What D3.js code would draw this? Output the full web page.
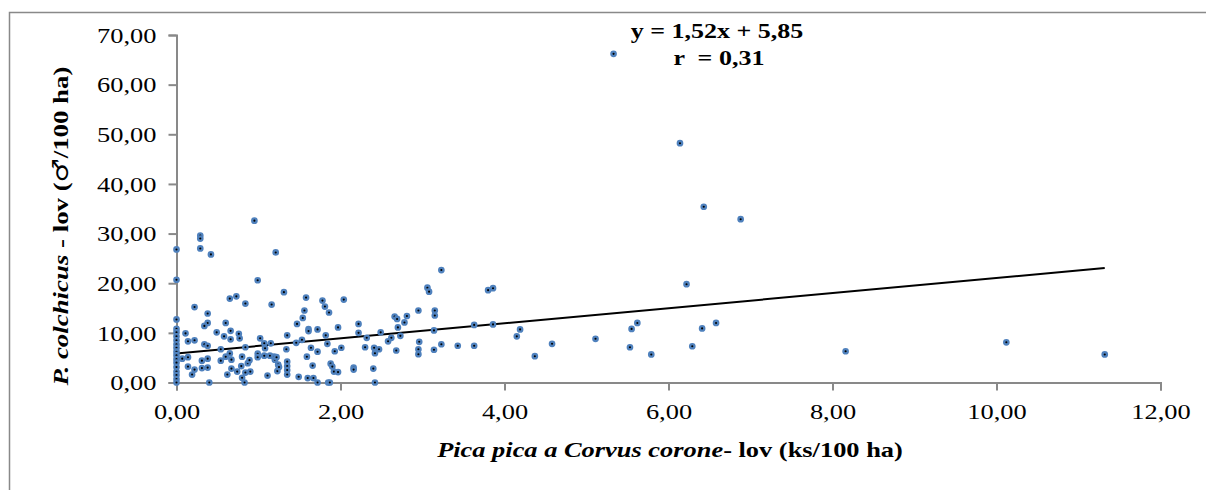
<!DOCTYPE html>
<html>
<head>
<meta charset="utf-8">
<script src="https://cdn.jsdelivr.net/npm/d3@7"></script>
<style>
  html, body { margin: 0; padding: 0; background: #fff; }
  svg text { font-family: "Liberation Serif", "Times New Roman", serif; fill: #000; }
</style>
</head>
<body>
<svg id="chart" width="1206" height="490"></svg>
<script>
// Corvid density (Pica pica + Corvus corone, ks/100 ha) per survey plot
const corvidDensity = [
  0,0,0,0,0,0,0,0,0,0,0,0,0,0,0,0,0,0,
  0.07,0.11,0.14,0.22,0.14,0.14,0.19,0.22,0.31,0.31,0.38,0.38,0.34,0.38,0.40,0.22,0.29,0.29,0.29,0.42,0.38,0.38,0.34,
  0.49,0.54,0.54,0.58,0.60,0.60,0.66,0.66,0.65,0.67,0.67,0.62,0.74,0.76,0.77,0.80,0.79,0.80,0.83,0.84,0.84,0.87,0.89,0.90,0.65,0.73,0.84,0.95,0.99,
  0.99,0.99,1.02,1.07,1.08,1.07,1.11,1.14,1.15,1.19,1.20,1.22,1.24,1.23,1.25,1.35,1.34,1.35,1.35,1.35,1.35,1.49,1.46,1.53,1.64,1.59,1.60,1.66,1.67,1.72,1.72,1.82,1.84,1.85,1.87,1.88,1.90,1.92,1.93,1.97,
  1.16,1.21,1.31,1.58,1.78,1.81,1.86,1.56,1.54,1.47,1.61,1.61,1.72,1.97,
  3.23,3.06,3.08,3.80,3.86,2.04,2.95,3.15,3.15,2.66,2.69,2.81,2.78,2.22,2.22,2.70,2.49,3.14,3.63,3.86,4.19,4.15,
  2.32,2.73,2.62,2.58,2.96,2.95,2.95,3.14,3.23,3.43,3.63,2.30,2.41,2.47,2.42,2.68,2.01,2.16,2.16,2.40,2.42,
  4.37,4.58,5.11,5.53,5.55,5.62,5.79,6.29,6.41,6.58,8.16,10.12,11.32,6.22,5.33,6.14,6.43,6.88
];

// Pheasant density (P. colchicus males/100 ha) on the same plots
const pheasantDensity = [
  26.8,20.7,12.7,10.8,10.1,9.3,8.5,7.7,7.0,6.2,5.5,4.7,4.0,3.1,2.2,1.5,0.7,0,
  4.8,9.9,8.3,8.5,5.1,3.2,1.6,2.6,4.4,2.9,3.0,4.8,7.7,7.4,0,15.2,29.6,29.0,27.0,25.8,13.9,12.0,11.4,
  10.1,6.7,4.4,9.3,5.2,12.0,10.4,8.7,5.85,4.6,2.8,1.6,2.2,9.8,8.9,5.2,3.3,0.95,0,7.1,2.0,3.9,4.5,2.2,16.9,17.35,15.9,32.6,20.6,
  5.8,5.1,8.9,7.9,6.9,5.4,1.4,5.4,7.9,5.2,4.6,5.1,3.6,2.3,3.1,9.5,6.7,4.2,3.3,2.5,1.6,1.15,8.0,8.6,7.0,5.2,0.9,3.4,0.9,0,6.2,9.5,7.8,0,0,3.8,3.2,2.2,6.3,2.1,
  15.7,26.2,18.2,17.1,16.5,15.3,14.1,14.5,13.0,11.8,10.75,10.35,10.7,11.1,
  22.65,19.1,18.3,18.6,19.0,16.7,14.5,14.5,13.5,13.3,12.8,13.4,12.1,11.8,10.0,11.1,10.1,10.5,11.6,11.7,10.7,9.3,
  9.0,9.4,9.0,8.3,8.2,6.7,5.7,6.6,7.7,7.4,7.4,7.1,7.0,6.7,5.9,6.45,7.0,3.0,2.6,2.8,0,
  5.3,7.8,8.8,7.1,10.8,12.0,5.65,7.3,10.9,12.0,6.3,8.1,5.65,19.8,66.2,48.2,35.4,32.9
];

// Axis ticks
const xTicks = [0, 2, 4, 6, 8, 10, 12];
const yTicks = [0, 10, 20, 30, 40, 50, 60, 70];

// Linear fit reported on the chart
const fitSlope = 1.52;
const fitIntercept = 5.85;
const fitR = 0.31;

const svg = d3.select("#chart");
const axisColor = "#898989";

const locale = d3.formatLocale({ decimal: ",", thousands: " ", grouping: [3], currency: ["", ""] });
const fmt = locale.format(".2f");

// Widen text along its own direction, keeping its anchor
function widen(sel, k) {
  sel.each(function () {
    const w = this.getComputedTextLength();
    d3.select(this).attr("textLength", w * k).attr("lengthAdjust", "spacingAndGlyphs");
  });
}

// Outer frame
svg.append("rect")
  .attr("x", 9.5).attr("y", 12.5)
  .attr("width", 1210).attr("height", 500)
  .attr("fill", "none").attr("stroke", axisColor).attr("stroke-width", 1.5);

const x = d3.scaleLinear().domain([0, 12]).range([176.5, 1160.5]);
const y = d3.scaleLinear().domain([0, 70]).range([382.5, 35]);

// Y axis
const yAxis = svg.append("g").attr("transform", `translate(${x(0)},0)`)
  .call(d3.axisLeft(y).tickValues(yTicks).tickSize(8).tickPadding(12).tickFormat(fmt));
yAxis.select(".domain").attr("stroke", axisColor).attr("stroke-width", 2);
yAxis.selectAll(".tick line").attr("stroke", axisColor).attr("stroke-width", 2);
yAxis.selectAll(".tick text")
  .attr("font-family", "Liberation Serif").attr("font-size", 22).attr("dy", "0.33em");
yAxis.selectAll(".tick text").call(widen, 1.2);

// X axis
const xAxis = svg.append("g").attr("transform", `translate(0,${y(0)})`)
  .call(d3.axisBottom(x).tickValues(xTicks).tickSize(8).tickPadding(13).tickFormat(fmt));
xAxis.select(".domain").attr("stroke", axisColor).attr("stroke-width", 2);
xAxis.selectAll(".tick line").attr("stroke", axisColor).attr("stroke-width", 2);
xAxis.selectAll(".tick text")
  .attr("font-family", "Liberation Serif").attr("font-size", 22);
xAxis.selectAll(".tick text").call(widen, 1.2);

// Regression line over the observed x range
const xMax = d3.max(corvidDensity);
svg.append("line")
  .attr("x1", x(0)).attr("y1", y(fitIntercept))
  .attr("x2", x(xMax)).attr("y2", y(fitIntercept + fitSlope * xMax))
  .attr("stroke", "#000").attr("stroke-width", 2);

// Points
const pts = d3.range(corvidDensity.length).map(i => [corvidDensity[i], pheasantDensity[i]]);
svg.append("g").selectAll("circle").data(pts).join("circle")
  .attr("cx", d => x(d[0])).attr("cy", d => y(d[1]))
  .attr("r", 2.2)
  .attr("fill", "#000")
  .attr("stroke", "#4f81bd").attr("stroke-width", 2.3);

// Equation
const eq = svg.append("text")
  .attr("x", 717).attr("y", 38)
  .attr("text-anchor", "middle").attr("font-size", 20).attr("font-weight", "bold")
  .text(`y = ${String(fitSlope).replace(".", ",")}x + ${String(fitIntercept).replace(".", ",")}`);
widen(eq, 1.3);
const rr = svg.append("text")
  .attr("x", 719).attr("y", 65)
  .attr("text-anchor", "middle").attr("font-size", 20).attr("font-weight", "bold")
  .style("white-space", "pre")
  .text(`r  = ${String(fitR).replace(".", ",")}`);
widen(rr, 1.3);

// X title
const xt = svg.append("text")
  .attr("x", 670).attr("y", 457)
  .attr("text-anchor", "middle").attr("font-size", 22).attr("font-weight", "bold");
xt.append("tspan").attr("font-style", "italic").text("Pica pica a Corvus corone");
xt.append("tspan").text("- lov (ks/100 ha)");
widen(xt, 1.2);

// Y title
const yt = svg.append("text")
  .attr("transform", "translate(68,226) rotate(-90)")
  .attr("text-anchor", "middle").attr("font-size", 22).attr("font-weight", "bold");
yt.append("tspan").attr("font-style", "italic").text("P. colchicus");
yt.append("tspan").text(" - lov (");
yt.append("tspan").attr("font-weight", "normal").attr("font-family", "DejaVu Sans").text("♂");
yt.append("tspan").text("/100 ha)");
widen(yt, 1.22);
</script>
</body>
</html>
